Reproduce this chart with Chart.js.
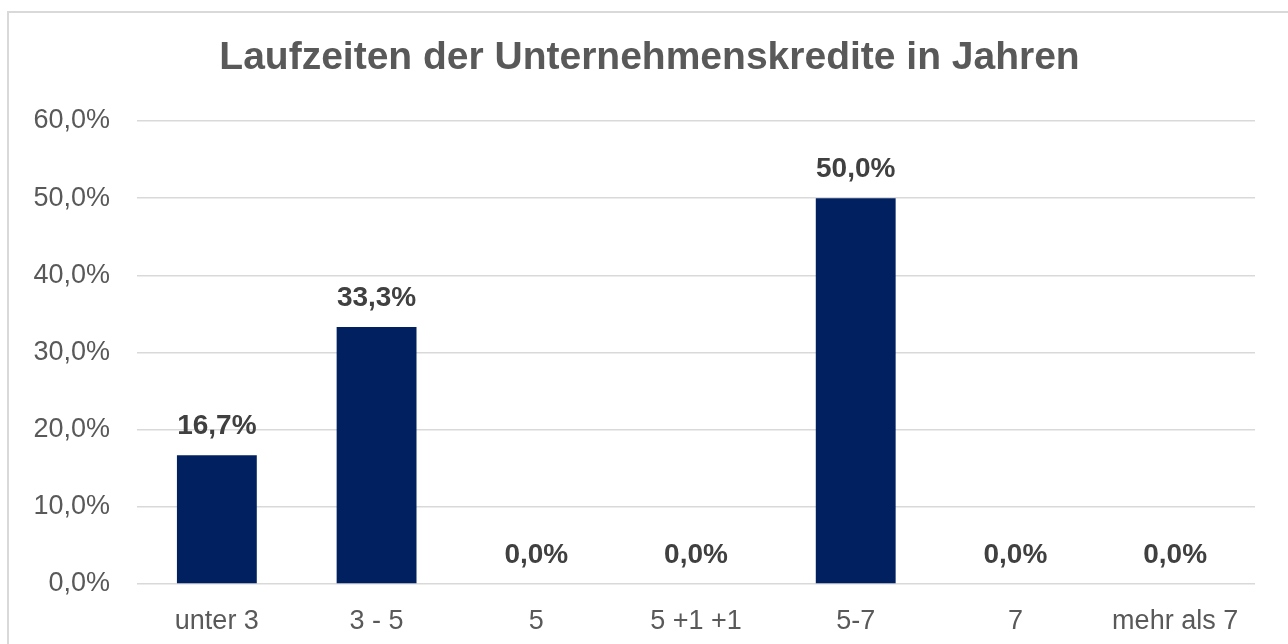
<!DOCTYPE html>
<html>
<head>
<meta charset="utf-8">
<script src="https://cdn.jsdelivr.net/npm/chart.js@4.4.1/dist/chart.umd.min.js"></script>
<style>
  html, body { margin: 0; padding: 0; background: #ffffff; }
  #wrap { position: relative; width: 1288px; height: 644px; overflow: hidden; }
  #frame { position: absolute; left: 7px; top: 11px; width: 1300px; height: 700px;
           border-left: 2px solid #d9d9d9; border-top: 2px solid #d9d9d9; box-sizing: border-box; }
  canvas { position: absolute; left: 0; top: 0; }
</style>
</head>
<body>
<div id="wrap">
  <div id="frame"></div>
  <canvas id="c" width="1288" height="644"></canvas>
</div>
<script>
const titleText = "Laufzeiten der Unternehmenskredite in Jahren";
const categories = ["unter 3", "3 - 5", "5", "5 +1 +1", "5-7", "7", "mehr als 7"];
const shares = [16.7, 33.3, 0.0, 0.0, 50.0, 0.0, 0.0];
const yTicks = [0, 10, 20, 30, 40, 50, 60];

const fmt = v => v.toFixed(1).replace('.', ',') + '%';

const dataLabels = {
  id: 'dataLabels',
  afterDatasetsDraw(chart) {
    const ctx = chart.ctx;
    const meta = chart.getDatasetMeta(0);
    ctx.save();
    ctx.font = 'bold 28px "Liberation Sans", Arial, sans-serif';
    ctx.fillStyle = '#404040';
    ctx.textAlign = 'center';
    ctx.textBaseline = 'middle';
    meta.data.forEach((bar, i) => {
      ctx.fillText(fmt(shares[i]), bar.x, bar.y - 29);
    });
    ctx.restore();
  }
};

// Chart title, centred slightly right of the canvas centre as in the reference
const chartTitle = {
  id: 'chartTitle',
  afterDraw(chart) {
    const ctx = chart.ctx;
    ctx.save();
    ctx.font = 'bold 39px "Liberation Sans", Arial, sans-serif';
    ctx.fillStyle = '#595959';
    ctx.textAlign = 'center';
    ctx.textBaseline = 'middle';
    ctx.fillText(titleText, (chart.chartArea.left - 93 + chart.chartArea.right) / 2, 58);
    ctx.restore();
  }
};

new Chart(document.getElementById('c'), {
  type: 'bar',
  data: {
    labels: categories,
    datasets: [{
      data: shares,
      backgroundColor: '#002060',
      borderWidth: 0,
      barPercentage: 0.5,
      categoryPercentage: 1.0
    }]
  },
  options: {
    responsive: false,
    animation: false,
    devicePixelRatio: 1,
    layout: { padding: { left: 0, right: 33, top: 121, bottom: 0 } },
    plugins: {
      legend: { display: false },
      tooltip: { enabled: false },
      title: { display: false }
    },
    scales: {
      x: {
        grid: { display: false, drawTicks: false },
        border: { display: false },
        ticks: {
          color: '#595959',
          font: { family: '"Liberation Sans", Arial, sans-serif', size: 27 },
          padding: 21,
          maxRotation: 0,
          autoSkip: false
        },
        afterFit(scale) { scale.height = 60; }
      },
      y: {
        min: 0,
        max: 60,
        afterBuildTicks(scale) { scale.ticks = yTicks.map(v => ({ value: v })); },
        grid: { color: '#d9d9d9', lineWidth: 1.5, drawTicks: false },
        border: { display: false },
        ticks: {
          color: '#595959',
          font: { family: '"Liberation Sans", Arial, sans-serif', size: 27 },
          padding: 27,
          callback: v => fmt(v)
        },
        afterFit(scale) { scale.width = 137; }
      }
    }
  },
  plugins: [dataLabels, chartTitle]
});
</script>
</body>
</html>
